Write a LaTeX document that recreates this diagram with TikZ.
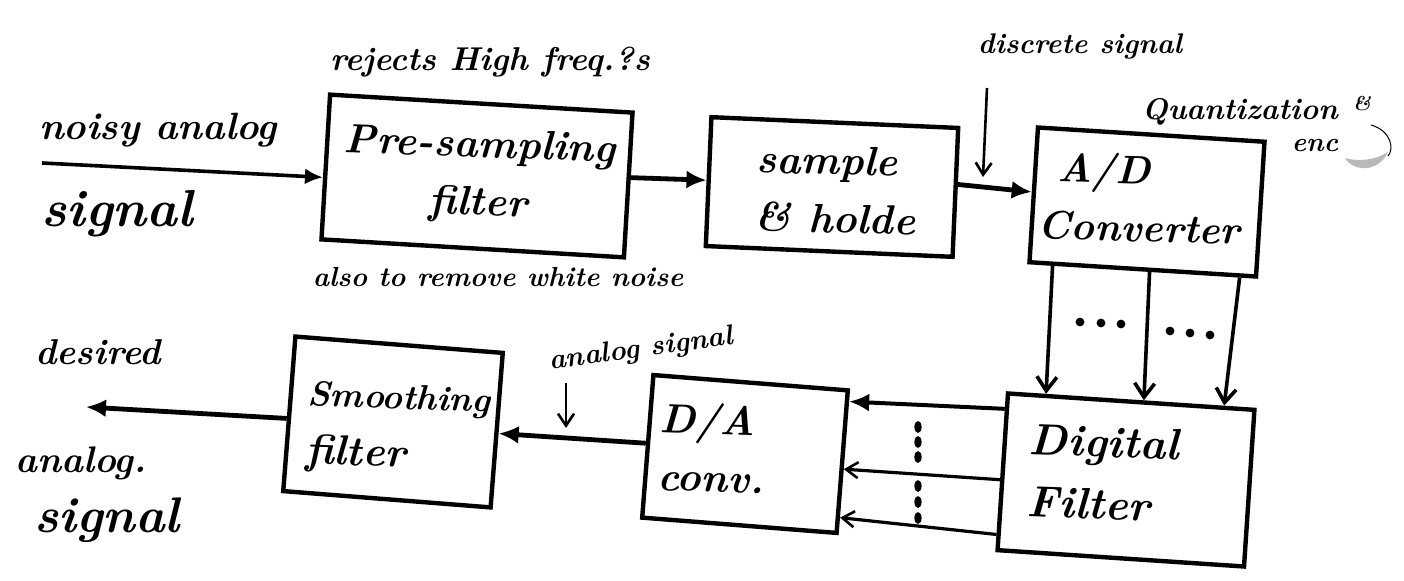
\documentclass[tikz,border=0pt]{standalone}
\usetikzlibrary{arrows.meta,calc}
\begin{document}
\begin{tikzpicture}[x=0.5pt,y=-0.5pt,
  box/.style={draw, line width=2.2pt, inner sep=0pt},
  boxtext/.style={font=\fontsize{20.5}{31}\selectfont\bfseries\itshape, align=left, inner sep=0pt},
  lab/.style={inner sep=0pt, font=\fontsize{#1}{#1}\selectfont\bfseries\itshape},
  fatarrow/.style={line width=2.4pt, -{Latex[length=10pt,width=9pt]}},
  inarrow/.style={line width=1.8pt, -{Latex[length=9pt,width=8pt]}},
  midarrow/.style={line width=1.8pt, -{Straight Barb[length=7pt,width=10pt,line width=1.8pt]}},
  thinarrow/.style={line width=1.3pt, -{Straight Barb[length=6pt,width=8pt,line width=1.3pt]}},
  dotmark/.style={fill=black}
]
\useasboundingbox (0,0) rectangle (1404,581);

% ---------- boxes ----------
\node[box, minimum width=151.5pt, minimum height=72.5pt, rotate=-3.4] (pre) at (477,176) {};
\node[box, minimum width=123.5pt, minimum height=64.5pt, rotate=-2.5] (sh) at (832,187) {};
\node[box, minimum width=113.5pt, minimum height=67.5pt, rotate=-3.6] (ad) at (1147,202) {};
\node[box, minimum width=123.5pt, minimum height=78.5pt, rotate=-3.8] (df) at (1126,480) {};
\node[box, minimum width=97.5pt, minimum height=71.5pt, rotate=-4.5] (da) at (745,454) {};
\node[box, minimum width=104pt, minimum height=77.5pt, rotate=-4.5] (sm) at (393,422) {};

% ---------- box texts ----------
\node[boxtext, align=center, rotate=-2] (pret) at (479,176) {Pre-sampling\\[-2pt]filter};
\node[boxtext, rotate=-1.5] (sht) at (836,190) {sample\\[-2pt]\& holde};
\node[boxtext, font=\fontsize{20}{31}\selectfont\bfseries\itshape, rotate=-1.5] (adt) at (1140,198) {\hspace*{9pt}A/D\\[-2pt]Converter};
\node[boxtext, font=\fontsize{22}{33}\selectfont\bfseries\itshape, rotate=-2] (dft) at (1103,473) {Digital\\[-2pt]Filter};
\node[boxtext, rotate=-2] (dat) at (712,448) {D/A\\[-2pt]conv.};
\node[boxtext, rotate=-2] (smt) at (398,430) {{\fontsize{17.5}{31}\selectfont Smoothing}\\[-2pt]{\fontsize{21}{31}\selectfont filter}};

% ---------- labels ----------
\node[lab=19] (noisy) at (158,130) {noisy analog};
\node[lab=26] (sigin) at (117,214) {signal};
\node[lab=16.5] (rej) at (490,62) {rejects High freq.?s};
\node[lab=13.8] (also) at (498,277) {also to remove white noise};
\node[lab=14.2] (disc) at (1080,47) {discrete signal};
\node[lab=15] (quant) at (1240,112) {Quantization};
\node[lab=10] (amp) at (1362,104) {\&};
\node[lab=13.5] (enc) at (1315,146) {enc};
\node[lab=18] (des) at (98,352) {desired};
\node[lab=18.5] (ana) at (81,463) {analog.};
\node[lab=25] (sigout) at (107,520) {signal};
\node[lab=14.2, rotate=8] (anasig) at (641,350) {analog signal};

% ---------- smudge next to "enc" ----------
\fill[gray!55] (1345,158) .. controls (1352,171) and (1378,174) .. (1388,152)
  .. controls (1376,160) and (1358,162) .. (1345,158) -- cycle;
\draw[line width=0.5pt] (1371,125) .. controls (1392,131) and (1394,150) .. (1388,156);

% ---------- coordinates for free ends ----------
\coordinate (in) at (42,163);
\coordinate (out) at (86,407);
\coordinate (ds) at (987,88);
\coordinate (de) at (983,177);
\coordinate (as) at (566,383);
\coordinate (ae) at (566,428);

% ---------- top row connectors ----------
\draw[inarrow] (in) -- ($(pre.north west)!0.57!(pre.south west)$);
\draw[fatarrow] ($(pre.north east)!0.45!(pre.south east)$) -- ($(sh.north west)!0.49!(sh.south west)$);
\draw[fatarrow] ($(sh.north east)!0.44!(sh.south east)$) -- ($(ad.north west)!0.48!(ad.south west)$);
\draw[thinarrow] (ds) -- (de);

% ---------- A/D to digital filter ----------
\draw[midarrow] ($(ad.south west)!0.11!(ad.south east)$) -- ($(df.north west)!0.16!(df.north east)$);
\draw[midarrow] ($(ad.south west)!0.53!(ad.south east)$) -- ($(df.north west)!0.55!(df.north east)$);
\draw[midarrow] ($(ad.south west)!0.92!(ad.south east)$) -- ($(df.north west)!0.87!(df.north east)$);
\foreach \px/\py in {1080/322,1101/323,1121/324,1170/331,1190/333,1210/335}
  \fill[dotmark] (\px,\py) circle[radius=2.2pt];

% ---------- digital filter to D/A ----------
\draw[fatarrow, line width=2pt] ($(df.north west)!0.11!(df.south west)$) -- ($(da.north east)!0.09!(da.south east)$);
\draw[thinarrow, line width=1.6pt] ($(df.north west)!0.55!(df.south west)$) -- ($(da.north east)!0.55!(da.south east)$);
\draw[thinarrow, line width=1.6pt] ($(df.north west)!0.89!(df.south west)$) -- ($(da.north east)!0.88!(da.south east)$);
\foreach \py in {427,442,457,486,502,518}
  \fill[dotmark] (918,\py) ellipse[x radius=1.8pt, y radius=3pt];

% ---------- bottom row connectors ----------
\draw[fatarrow] ($(da.north west)!0.48!(da.south west)$) -- ($(sm.north east)!0.52!(sm.south east)$);
\draw[thinarrow] (as) -- (ae);
\draw[fatarrow] ($(sm.north west)!0.53!(sm.south west)$) -- (out);
\end{tikzpicture}
\end{document}
